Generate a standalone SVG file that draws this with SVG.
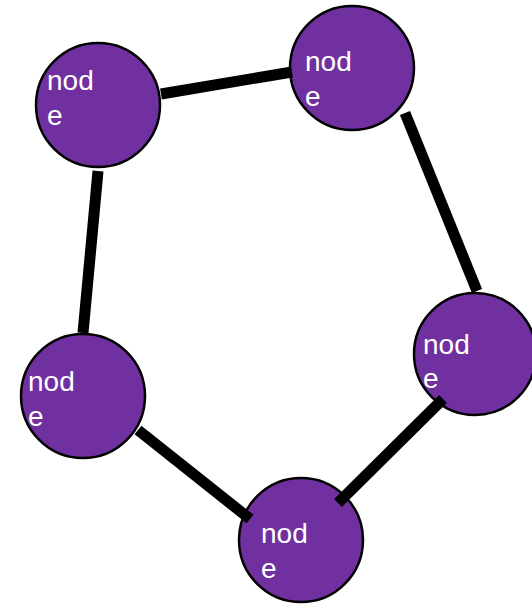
<svg xmlns="http://www.w3.org/2000/svg" width="532" height="604" viewBox="0 0 532 604">
<style>
.n{fill:#7030a0;stroke:#000;stroke-width:2.5}
.t{font-family:"Liberation Sans",Arial,sans-serif;font-size:28px;fill:#fff}
.e{stroke:#000;stroke-width:11;stroke-linecap:butt;fill:none}
</style>
<rect width="532" height="604" fill="#fff"/>
<g id="node1"><circle class="n" cx="98" cy="105" r="62"/><text class="t" x="47" y="90">nod</text><text class="t" x="47" y="125">e</text></g>
<g id="node2"><circle class="n" cx="352" cy="68" r="62"/><text class="t" x="305" y="71">nod</text><text class="t" x="305" y="106">e</text></g>
<g id="node3"><circle class="n" cx="475" cy="354" r="61"/><text class="t" x="423" y="354">nod</text><text class="t" x="423" y="388">e</text></g>
<g id="node4"><circle class="n" cx="83" cy="396" r="62"/><text class="t" x="28" y="391">nod</text><text class="t" x="28" y="426">e</text></g>
<g id="node5"><circle class="n" cx="301" cy="540" r="62"/><text class="t" x="261" y="543">nod</text><text class="t" x="261" y="578">e</text></g>
<g id="connectors">
<line class="e" x1="161" y1="94" x2="292" y2="72"/>
<line class="e" x1="405" y1="113" x2="477" y2="291"/>
<line class="e" x1="443" y1="399" x2="338" y2="503"/>
<line class="e" x1="138" y1="430" x2="250" y2="519"/>
<line class="e" x1="98" y1="171" x2="83" y2="333"/>
</g>
</svg>
